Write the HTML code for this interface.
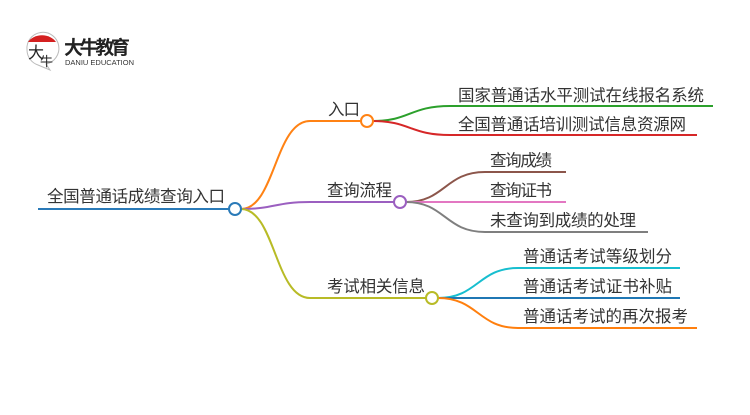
<!DOCTYPE html>
<html><head><meta charset="utf-8"><style>
html,body{margin:0;padding:0;background:#fff;}
svg text{font-family:"Liberation Sans","Noto Sans CJK SC",sans-serif;fill:#333;font-size:16.5px;}
</style></head><body>
<svg width="750" height="410" viewBox="0 0 750 410" xmlns="http://www.w3.org/2000/svg">
<g>
<path d="M27 50 A16 16 0 1 1 46 64 L50 70 L38 65 A16 16 0 0 1 27 50Z" fill="#fff" stroke="#bbb" stroke-width="1"/>
<path d="M28 42 A16 13 0 0 1 56 42 Z" fill="#d42020"/>
<text x="28" y="58" style="font-size:16px;fill:#222;">大</text>
<text x="40" y="66" style="font-size:13px;fill:#222;">牛</text>
<text x="64" y="54" style="font-size:19px;font-weight:bold;fill:#222;" textLength="66">大牛教育</text>
<text x="65" y="65" style="font-size:7.5px;fill:#333;" textLength="69">DANIU EDUCATION</text>
</g>
<g fill="none" stroke-width="2">
<line x1="38" y1="209" x2="229" y2="209" stroke="#2a7ab8"/>
<path d="M241 209 C275 209 275 121 310 121 L361 121" stroke="#ff8214"/>
<path d="M241 209 C275 209 275 202 310 202 L394 202" stroke="#9b5fc0"/>
<path d="M241 209 C275 209 275 298 310 298 L426 298" stroke="#b8bb26"/>
<path d="M373 121 C410 121 410 106 450 106 L713 106" stroke="#2ca02c"/>
<path d="M373 121 C410 121 410 135 450 135 L697 135" stroke="#d62728"/>
<path d="M406 202 C445 202 445 172 485 172 L566 172" stroke="#8c564b"/>
<path d="M406 202 L566 202" stroke="#e377c2"/>
<path d="M406 202 C445 202 445 232 485 232 L648 232" stroke="#7f7f7f"/>
<path d="M438 298 C478 298 478 268 518 268 L680 268" stroke="#17becf"/>
<path d="M438 298 L680 298" stroke="#1f77b4"/>
<path d="M438 298 C478 298 478 328 518 328 L697 328" stroke="#ff7f0e"/>
</g>
<g fill="#fff" stroke-width="2">
<circle cx="235" cy="209" r="6" stroke="#2a7ab8"/>
<circle cx="367" cy="121" r="6" stroke="#ff8214"/>
<circle cx="400" cy="202" r="6" stroke="#9b5fc0"/>
<circle cx="432" cy="298" r="6" stroke="#b8bb26"/>
</g>
<text x="47" y="202" textLength="178">全国普通话成绩查询入口</text>
<text x="328" y="115" textLength="32">入口</text>
<text x="327" y="196" textLength="65">查询流程</text>
<text x="327" y="292" textLength="98">考试相关信息</text>
<text x="458" y="101" textLength="246">国家普通话水平测试在线报名系统</text>
<text x="458" y="130" textLength="228">全国普通话培训测试信息资源网</text>
<text x="490" y="166" textLength="62">查询成绩</text>
<text x="490" y="196" textLength="62">查询证书</text>
<text x="490" y="226" textLength="146">未查询到成绩的处理</text>
<text x="523" y="262" textLength="149">普通话考试等级划分</text>
<text x="523" y="292" textLength="149">普通话考试证书补贴</text>
<text x="523" y="322" textLength="165">普通话考试的再次报考</text>
</svg>
</body></html>
